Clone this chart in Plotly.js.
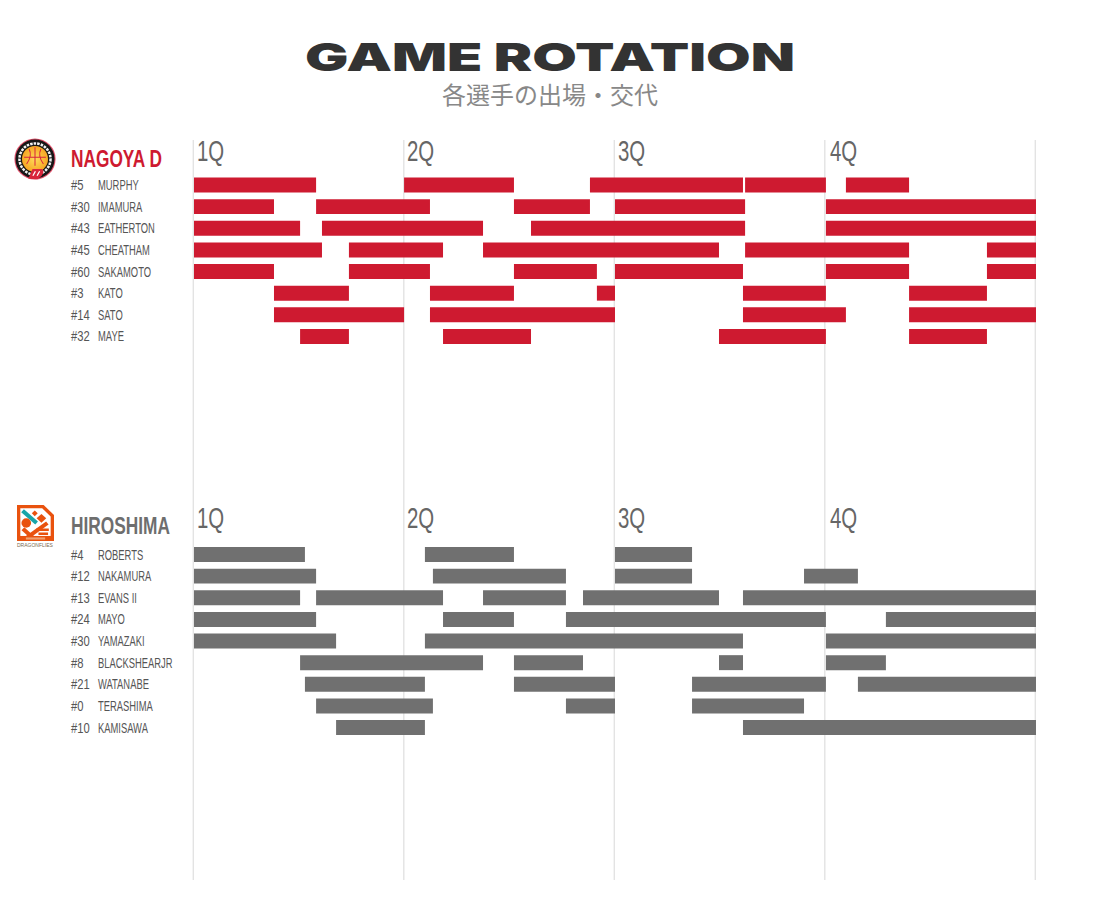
<!DOCTYPE html>
<html>
<head>
<meta charset="utf-8">
<script src="https://cdn.plot.ly/plotly-3.0.1.min.js"></script>
<style>html,body{margin:0;padding:0;background:#fff}#chart{width:1100px;height:900px}</style>
</head>
<body>
<div id="chart"></div>
<script>
const quarterLabels = ['1Q','2Q','3Q','4Q'];
const quarterStarts = [0,10,20,30];
const gridMinutes = [0,10,20,30,40];

const nagoyaTeam = 'NAGOYA D';
const nagoyaNumbers = ['#5','#30','#43','#45','#60','#3','#14','#32'];
const nagoyaPlayers = ['MURPHY','IMAMURA','EATHERTON','CHEATHAM','SAKAMOTO','KATO','SATO','MAYE'];
const nagoyaStints = [
  [[0,5.80],[9.98,15.20],[18.81,26.08],[26.18,30.02],[30.97,33.97]],
  [[0,3.80],[5.80,11.21],[15.20,18.81],[20.00,26.18],[30.02,40]],
  [[0,5.04],[6.08,13.73],[16.01,26.18],[30.02,40]],
  [[0,6.08],[7.36,11.83],[13.73,24.94],[26.18,33.97],[37.67,40]],
  [[0,3.80],[7.36,11.21],[15.20,19.14],[20.00,26.08],[30.02,33.97],[37.67,40]],
  [[3.80,7.36],[11.21,15.20],[19.14,20.00],[26.08,30.02],[33.97,37.67]],
  [[3.80,9.98],[11.21,20.00],[26.08,30.97],[33.97,40]],
  [[5.04,7.36],[11.83,16.01],[24.94,30.02],[33.97,37.67]]
];

const hiroshimaTeam = 'HIROSHIMA';
const hiroshimaNumbers = ['#4','#12','#13','#24','#30','#8','#21','#0','#10'];
const hiroshimaPlayers = ['ROBERTS','NAKAMURA','EVANS II','MAYO','YAMAZAKI','BLACKSHEARJR','WATANABE','TERASHIMA','KAMISAWA'];
const hiroshimaStints = [
  [[0,5.27],[10.97,15.20],[20.00,23.66]],
  [[0,5.80],[11.35,17.67],[20.00,23.66],[28.98,31.54]],
  [[0,5.04],[5.80,11.83],[13.73,17.67],[18.48,24.94],[26.08,40]],
  [[0,5.80],[11.83,15.20],[17.67,30.02],[32.87,40]],
  [[0,6.75],[10.97,26.08],[30.02,40]],
  [[5.04,13.73],[15.20,18.48],[24.94,26.08],[30.02,32.87]],
  [[5.27,10.97],[15.20,20.00],[23.66,30.02],[31.54,40]],
  [[5.80,11.35],[17.67,20.00],[23.66,28.98]],
  [[6.75,10.97],[26.08,40]]
];

const RED = '#ce1a30', GRAY = '#707070';
const NARROW = '"Liberation Sans",sans-serif';

// plot area in pixels
const L = 190, R = 1040, T = 140, B = 880;
const px = p => (p - L) / (R - L);
const py = p => (B - p) / (B - T);

function barTrace(players, stints, color, yaxis) {
  const x = [], base = [], y = [];
  stints.forEach((list, i) => list.forEach(s => {
    y.push(players[i]); base.push(s[0]); x.push(s[1] - s[0]);
  }));
  return {type:'bar', orientation:'h', x, base, y, yaxis, xaxis:'x', width:0.693,
          marker:{color, line:{width:0}}, hoverinfo:'skip', showlegend:false};
}

function rowLabels(numbers, players, yref) {
  const out = [];
  const common = {yref, xref:'paper', xanchor:'left', yanchor:'middle', align:'left', showarrow:false,
                  font:{family:NARROW, size:14, color:'#555'}};
  players.forEach((p, i) => {
    out.push({...common, x:px(69), y:p, text:numbers[i], name:'num'});
    out.push({...common, x:px(96), y:p, text:p, name:'row'});
  });
  return out;
}

function quarterAnn(py0) {
  return quarterLabels.map((q, i) => ({
    xref:'x', yref:'paper', x:quarterStarts[i], y:py(py0), xshift:i === 3 ? 2 : 0.5, xanchor:'left', yanchor:'middle', align:'left',
    showarrow:false, text:q, name:'quarter', font:{family:NARROW, size:30, color:'#666'}
  }));
}

function teamAnn(text, color, p) {
  return {xref:'paper', yref:'paper', x:px(69), y:py(p), xanchor:'left', yanchor:'middle', align:'left',
          showarrow:false, text, name:'team', font:{family:NARROW, size:24, weight:700, color}};
}

const nagoyaLogo = 'data:image/svg+xml;utf8,' + encodeURIComponent(
`<svg xmlns="http://www.w3.org/2000/svg" viewBox="0 0 100 100">
<defs><radialGradient id="g" cx="50%" cy="50%" r="55%"><stop offset="0%" stop-color="#fedc5a"/><stop offset="100%" stop-color="#f5a01e"/></radialGradient></defs>
<circle cx="50" cy="50" r="49" fill="#e0506a"/><circle cx="50" cy="50" r="46.5" fill="#161616"/>
<circle cx="50" cy="50" r="37" fill="none" stroke="#f2f2f2" stroke-width="6" stroke-dasharray="6 2.5"/>
<circle cx="50" cy="50" r="31" fill="url(#g)"/>
<g stroke="#d8263c" stroke-width="2.4" fill="none"><path d="M50 22V66M24 46H76M36 26Q44 42 30 62M64 26Q56 42 70 62"/></g>
<path d="M34 97L44 74H66Q74 78 66 90L56 98Z" fill="#d8263c"/><path d="M45 90L51 79M55 90L61 79" stroke="#fff" stroke-width="3"/>
</svg>`);

const hiroshimaLogo = 'data:image/svg+xml;utf8,' + encodeURIComponent(
`<svg xmlns="http://www.w3.org/2000/svg" viewBox="0 0 100 100">
<path d="M0 0H72L100 28V100H0Z" fill="#e9520e"/>
<path d="M9 9H68L91 32V88H9Z" fill="#fff"/>
<path d="M15 16L53 50" stroke="#1aa5a8" stroke-width="11" fill="none"/>
<path d="M66 25L79 37L66 49L53 37Z" fill="#e9520e"/>
<path d="M48 15L56 23L48 31L40 23Z" fill="#e9520e"/>
<circle cx="25" cy="50" r="13" fill="#e9520e"/>
<path d="M82 50L28 90" stroke="#e9520e" stroke-width="11" fill="none"/>
<path d="M16 66L44 92" stroke="#e9520e" stroke-width="11" fill="none"/>
<path d="M52 69H86M58 80L84 80" stroke="#e9520e" stroke-width="7" fill="none"/>
<rect x="0" y="86" width="100" height="14" fill="#e9520e"/>
<rect x="24" y="90" width="52" height="6" fill="#f0a070"/>
</svg>`);

const shapes = gridMinutes.map(m => ({
  type:'rect', xref:'x', yref:'paper', xsizemode:'pixel', xanchor:m, x0:-1.4, x1:0, y0:0, y1:1,
  fillcolor:'#e3e3e3', line:{width:0}, layer:'below'
}));

const axisOff = {showgrid:false, zeroline:false, showline:false, showticklabels:false, ticks:''};
const rowH = 21.63;

const layout = {
  width:1100, height:900, margin:{l:L, r:1100-R, t:T, b:900-B, pad:0, autoexpand:false},
  paper_bgcolor:'#fff', plot_bgcolor:'#fff', barmode:'overlay', showlegend:false,
  title:{text:'GAME ROTATION', xref:'container', yref:'container', x:0.5, xanchor:'center', y:1-57/900, yanchor:'middle',
         font:{family:'Inter, "DejaVu Sans", sans-serif', weight:900, size:39, color:'#333'}},
  xaxis:{...axisOff, range:[(L-194)/21.05, (R-194)/21.05]},
  yaxis:{...axisOff, type:'category', categoryorder:'array', categoryarray:nagoyaPlayers,
         range:[(B-185)/rowH, (T-185)/rowH]},
  yaxis2:{...axisOff, type:'category', categoryorder:'array', categoryarray:hiroshimaPlayers, overlaying:'y',
         range:[(B-554.5)/rowH, (T-554.5)/rowH]},
  shapes,
  images:[
    {source:nagoyaLogo, xref:'paper', yref:'paper', x:px(14), y:py(138), sizex:42/(R-L), sizey:42/(B-T), sizing:'stretch', xanchor:'left', yanchor:'top', layer:'above'},
    {source:hiroshimaLogo, xref:'paper', yref:'paper', x:px(17), y:py(505), sizex:37/(R-L), sizey:36/(B-T), sizing:'stretch', xanchor:'left', yanchor:'top', layer:'above'}
  ],
  annotations:[
    {xref:'paper', yref:'paper', x:px(550), y:py(93), xanchor:'center', yanchor:'middle', showarrow:false,
     text:'各選手の出場・交代', font:{family:'"Noto Sans CJK JP"', size:24, color:'#888'}},
    teamAnn(nagoyaTeam, RED, 159),
    teamAnn(hiroshimaTeam, '#6e6e6e', 525),
    ...quarterAnn(151),
    ...quarterAnn(517.5),
    ...rowLabels(nagoyaNumbers, nagoyaPlayers, 'y'),
    ...rowLabels(hiroshimaNumbers, hiroshimaPlayers, 'y2'),
    {xref:'paper', yref:'paper', x:px(35.5), y:py(545), xanchor:'center', yanchor:'middle', showarrow:false,
     text:'DRAGONFLIES', name:'logo', font:{family:'"Liberation Sans"', size:5, color:'#7a6a50'}}
  ]
};

const data = [
  barTrace(nagoyaPlayers, nagoyaStints, RED, 'y'),
  barTrace(hiroshimaPlayers, hiroshimaStints, GRAY, 'y2')
];

const squeeze = {row:0.67, num:0.8, quarter:0.68, team:0.72};

Plotly.newPlot('chart', data, layout, {displayModeBar:false, staticPlot:true}).then(gd => {
  // the reference uses a very wide display face and a condensed one: fit the installed fonts to those widths
  const t = gd.querySelector('.g-gtitle text');
  if (t) { t.setAttribute('textLength', 490); t.setAttribute('lengthAdjust','spacingAndGlyphs'); }
  gd.querySelectorAll('.annotation').forEach(a => {
    const idx = +a.getAttribute('data-index');
    const f = squeeze[layout.annotations[idx].name];
    const tx = a.querySelector('text');
    if (f && tx) {
      tx.setAttribute('textLength', (tx.getComputedTextLength()*f).toFixed(1));
      tx.setAttribute('lengthAdjust','spacingAndGlyphs');
    }
  });
});
</script>
</body>
</html>
